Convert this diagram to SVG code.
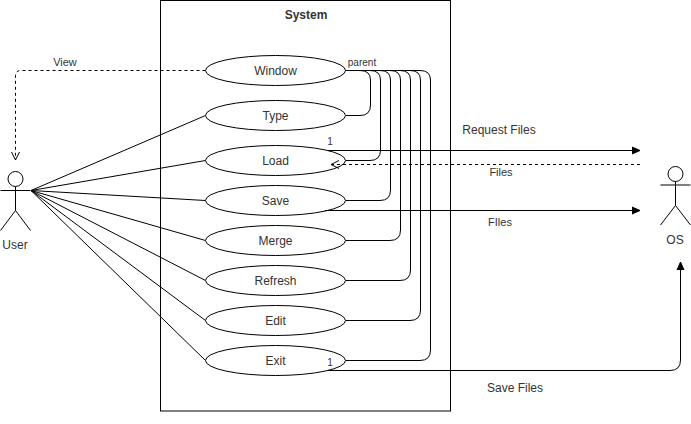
<svg xmlns="http://www.w3.org/2000/svg" width="691" height="424" viewBox="0 0 691 424">
<defs>
<style>
text{font-family:"Liberation Sans",Arial,sans-serif;font-size:12px;fill:#333;text-anchor:middle}
.s{font-size:10px}
.m{font-size:11px}
.n{fill:#fff;stroke:#000;stroke-width:1}
.c{fill:none;stroke:#000;stroke-width:1}
.d{stroke-dasharray:3 3}
.a{fill:none;stroke:#000;stroke-width:1}
</style>
<marker id="tri" markerUnits="userSpaceOnUse" markerWidth="9" markerHeight="10" refX="8" refY="5" orient="auto"><path d="M0 1.5L8 5L0 8.500Z" fill="#000" stroke="#000"/></marker>
<marker id="open" markerUnits="userSpaceOnUse" markerWidth="10" markerHeight="12" refX="9" refY="6" orient="auto"><path d="M1 2L9 6L1 10" fill="none" stroke="#000"/></marker>
</defs>
<g id="system"><rect x="160.500" y="0.500" width="290" height="410.500" fill="#fff" stroke="#000"/><text x="306" y="19" style="font-weight:bold">System</text></g>
<g id="connectors">
<path class="c" d="M31 190.500L205.500 115.500M31 190.500L205.500 160.500M31 190.500L205.500 200.500M31 190.500L205.500 240.500M31 190.500L205.500 280.500M31 190.500L205.500 320.500M31 190.500L205.500 360.500"/>
<path class="c d" marker-end="url(#open)" d="M205.500 70.500H21Q15.500 70.500 15.500 76V160"/>
<path class="c" d="M345.500 70.500H360Q370.500 70.500 370.500 80V105Q370.500 115.500 360 115.500H345.500"/>
<path class="c" d="M345.500 70.500H370Q380.500 70.500 380.500 80V150Q380.500 160.500 370 160.500H345.500"/>
<path class="c" d="M345.500 70.500H380Q390.500 70.500 390.500 80V190Q390.500 200.500 380 200.500H345.500"/>
<path class="c" d="M345.500 70.500H390Q400.500 70.500 400.500 80V230Q400.500 240.500 390 240.500H345.500"/>
<path class="c" d="M345.500 70.500H400Q410.500 70.500 410.500 80V270Q410.500 280.500 400 280.500H345.500"/>
<path class="c" d="M345.500 70.500H410Q420.500 70.500 420.500 80V310Q420.500 320.500 410 320.500H345.500"/>
<path class="c" d="M345.500 70.500H420Q430.500 70.500 430.500 80V350Q430.500 360.500 420 360.500H345.500"/>
</g>
<g id="window"><ellipse class="n" cx="275.500" cy="70.500" rx="70" ry="15"/><text x="275.500" y="75">Window</text></g>
<g id="type"><ellipse class="n" cx="275.500" cy="115.500" rx="70" ry="15"/><text x="275.500" y="120">Type</text></g>
<g id="load"><ellipse class="n" cx="275.500" cy="160.500" rx="70" ry="15"/><text x="275.500" y="165">Load</text></g>
<g id="save"><ellipse class="n" cx="275.500" cy="200.500" rx="70" ry="15"/><text x="275.500" y="205">Save</text></g>
<g id="merge"><ellipse class="n" cx="275.500" cy="240.500" rx="70" ry="15"/><text x="275.500" y="245">Merge</text></g>
<g id="refresh"><ellipse class="n" cx="275.500" cy="280.500" rx="70" ry="15"/><text x="275.500" y="285">Refresh</text></g>
<g id="edit"><ellipse class="n" cx="275.500" cy="320.500" rx="70" ry="15"/><text x="275.500" y="325">Edit</text></g>
<g id="exit"><ellipse class="n" cx="275.500" cy="360.500" rx="70" ry="15"/><text x="275.500" y="365">Exit</text></g>
<g id="flows">
<path class="c" marker-end="url(#tri)" d="M328 150.500H640"/>
<path class="c d" marker-end="url(#open)" d="M640 164.500H331"/>
<path class="c" marker-end="url(#tri)" d="M325 210.500H640"/>
<path class="c" marker-end="url(#tri)" d="M328 370.500H670Q680.500 370.500 680.500 360V262"/>
</g>
<g id="user"><circle class="a" cx="15.500" cy="179" r="7.500"/><path class="a" d="M15.500 186.500V210.500M0.500 190.500H30.500M15.500 210.500L0.500 230.500M15.500 210.500L30.500 230.500"/><text x="15" y="249">User</text></g>
<g id="os"><circle class="a" cx="675.500" cy="174" r="7.500"/><path class="a" d="M675.500 181.500V205.500M660.500 185H690.500M675.500 205.500L660.500 225M675.500 205.500L690.500 225"/><text x="675" y="244">OS</text></g>
<g id="labels">
<text x="65" y="66" class="m">View</text>
<text x="362" y="66" class="s">parent</text>
<text x="330" y="145" class="s">1</text>
<text x="330" y="366" class="s">1</text>
<text x="499" y="134">Request Files</text>
<text x="501" y="176" class="m">Files</text>
<text x="500" y="226" class="m">FIles</text>
<text x="515" y="392">Save Files</text>
</g>
</svg>
